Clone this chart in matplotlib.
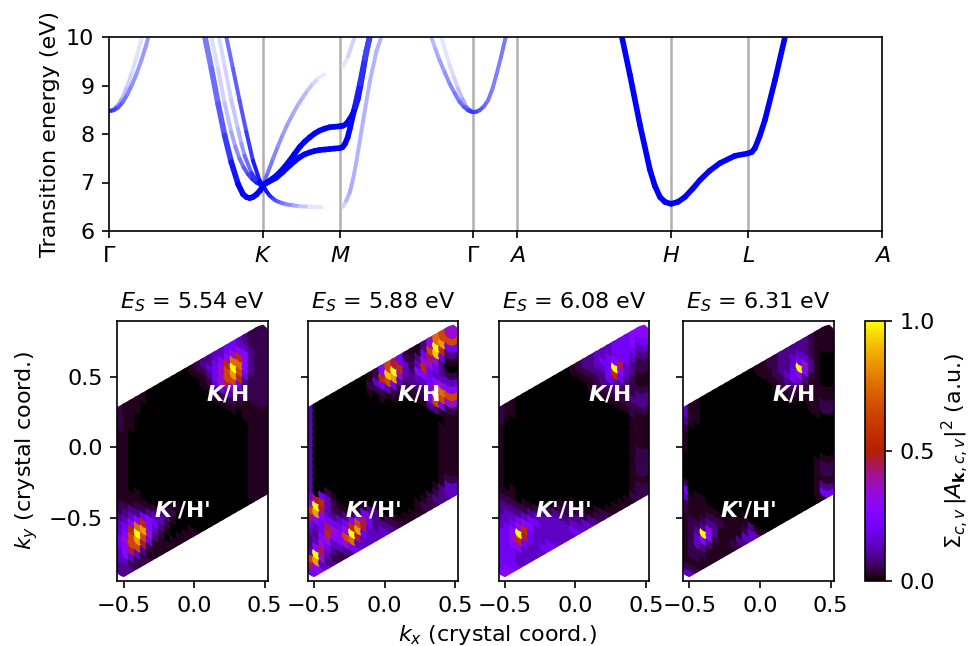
import numpy as np
import matplotlib
matplotlib.use("Agg")
import matplotlib.pyplot as plt
from matplotlib.collections import LineCollection
from matplotlib.patches import Polygon

plt.rcParams["font.size"] = 10.7

W, H = 970, 646

# k-path ticks
TICK_K = [0, 1, 1.5, 2.364, 2.65, 3.65, 4.15, 5.02]
TICK_NAMES = [r"$\Gamma$", "$K$", "$M$", r"$\Gamma$", "$A$", "$H$", "$L$", "$A$"]

# each band: k, energy, weight
G1_K = [0, 0.03, 0.06, 0.09, 0.12, 0.15, 0.18, 0.21, 0.24, 0.26]
G1_E = [8.47, 8.49, 8.55, 8.66, 8.82, 9.02, 9.25, 9.52, 9.82, 10.05]
G1_A = [0.8, 0.8, 0.7, 0.6, 0.5, 0.45, 0.4, 0.4, 0.4, 0.4]
G2_K = [0, 0.03, 0.06, 0.09, 0.12, 0.15, 0.18, 0.21, 0.225]
G2_E = [8.47, 8.50, 8.60, 8.76, 9.0, 9.28, 9.6, 9.95, 10.1]
G2_A = [0.7, 0.6, 0.4, 0.3, 0.2, 0.15, 0.12, 0.1, 0.1]

KL1_K = [0.623, 0.665, 0.708, 0.751, 0.794, 0.838, 0.870, 0.892, 0.913, 0.935, 0.957, 0.98, 1.0]
KL1_E = [10, 9.35, 8.63, 7.97, 7.42, 6.97, 6.76, 6.70, 6.68, 6.70, 6.75, 6.83, 6.93]
KL1_A = [0.5, 0.55, 0.6, 0.7, 0.85, 1, 1, 1, 1, 1, 1, 1, 1]
KL2_K = [0.665, 0.708, 0.751, 0.794, 0.82, 0.848, 0.875, 0.903, 0.93, 0.957, 0.98, 1.0]
KL2_E = [10, 9.35, 8.63, 8.04, 7.74, 7.49, 7.31, 7.17, 7.07, 7.0, 6.96, 6.93]
KL2_A = [0.12, 0.15, 0.2, 0.3, 0.4, 0.5, 0.6, 0.7, 0.8, 0.9, 1, 1]
KL3_K = [0.714, 0.751, 0.794, 0.838, 0.86, 0.881, 0.925, 0.968, 1]
KL3_E = [10, 9.4, 8.7, 8.1, 7.8, 7.55, 7.2, 7.0, 6.93]
KL3_A = [0.15, 0.15, 0.2, 0.25, 0.35, 0.45, 0.7, 0.9, 1]
KL4_K = [0.762, 0.805, 0.848, 0.892, 0.935, 0.978, 1]
KL4_E = [10, 9.35, 8.69, 8.04, 7.45, 7.04, 6.93]
KL4_A = [0.55, 0.6, 0.65, 0.7, 0.85, 0.95, 1]

KM1_K = [1, 1.04, 1.087, 1.13, 1.173, 1.205, 1.238, 1.27, 1.303, 1.335, 1.368, 1.4, 1.433, 1.465, 1.5]
KM1_E = [6.95, 7.03, 7.14, 7.28, 7.45, 7.59, 7.73, 7.84, 7.93, 8.01, 8.07, 8.11, 8.14, 8.15, 8.16]
KM2_E = [6.95, 7.02, 7.10, 7.22, 7.35, 7.44, 7.52, 7.58, 7.62, 7.65, 7.67, 7.68, 7.69, 7.70, 7.71]
KM_A = [1] * 15
KM3_K = [1, 1.033, 1.065, 1.097, 1.130, 1.162, 1.195, 1.227, 1.26, 1.292, 1.325, 1.36, 1.40]
KM3_E = [6.95, 7.22, 7.49, 7.75, 8.0, 8.22, 8.42, 8.6, 8.76, 8.91, 9.04, 9.15, 9.23]
KM3_A = [0.6, 0.55, 0.5, 0.45, 0.4, 0.37, 0.35, 0.32, 0.3, 0.25, 0.2, 0.12, 0.05]
KM4_K = [1, 1.02, 1.043, 1.065, 1.087, 1.12, 1.152, 1.195, 1.238, 1.3, 1.379]
KM4_E = [6.95, 6.83, 6.73, 6.67, 6.62, 6.58, 6.55, 6.53, 6.51, 6.50, 6.49]
KM4_A = [1, 0.95, 0.9, 0.8, 0.7, 0.6, 0.5, 0.4, 0.3, 0.15, 0.05]

MG1_K = [1.5, 1.52, 1.541, 1.562, 1.584, 1.6, 1.617, 1.633, 1.649, 1.671, 1.693]
MG1_E = [8.16, 8.17, 8.21, 8.30, 8.42, 8.56, 8.73, 8.99, 9.28, 9.70, 10]
MG1_A = [1, 1, 1, 1, 1, 0.95, 0.95, 0.9, 0.85, 0.8, 0.7]
MG2_K = [1.5, 1.517, 1.533, 1.55, 1.565, 1.597, 1.63, 1.662, 1.693]
MG2_E = [7.71, 7.73, 7.80, 7.93, 8.12, 8.56, 9.04, 9.56, 10]
MG2_A = [1, 1, 1, 1, 1, 0.95, 0.85, 0.8, 0.7]
MG3_K = [1.52, 1.54, 1.563, 1.585, 1.606, 1.649, 1.693, 1.736, 1.768]
MG3_E = [6.5, 6.62, 6.79, 7.07, 7.42, 8.25, 9.07, 9.7, 10]
MG3_A = [0.1, 0.25, 0.35, 0.32, 0.3, 0.3, 0.3, 0.3, 0.3]
MG4_K = [1.52, 1.552, 1.595]
MG4_E = [9.39, 9.6, 10]
MG4_A = [0.05, 0.15, 0.2]

GL1_K = [2.093, 2.12, 2.147, 2.18, 2.212, 2.245, 2.277, 2.305, 2.331, 2.345, 2.364]
GL1_E = [10, 9.75, 9.52, 9.27, 9.04, 8.84, 8.66, 8.56, 8.49, 8.47, 8.45]
GL1_A = [0.25, 0.3, 0.35, 0.4, 0.45, 0.5, 0.55, 0.6, 0.7, 0.75, 0.8]
GL2_K = [2.158, 2.185, 2.212, 2.24, 2.266, 2.295, 2.32, 2.342, 2.364]
GL2_E = [10, 9.7, 9.42, 9.17, 8.94, 8.72, 8.56, 8.49, 8.45]
GL2_A = [0.1, 0.1, 0.12, 0.15, 0.2, 0.3, 0.4, 0.55, 0.7]
GR_K = [2.364, 2.385, 2.407, 2.435, 2.461, 2.49, 2.515, 2.545, 2.576]
GR_E = [8.45, 8.46, 8.49, 8.57, 8.69, 8.93, 9.21, 9.58, 10]
GR_A = [0.8, 0.75, 0.7, 0.6, 0.55, 0.5, 0.5, 0.5, 0.55]

H_K = [3.331, 3.383, 3.448, 3.513, 3.545, 3.578, 3.61, 3.65, 3.695, 3.74, 3.79, 3.838, 3.9, 3.968,
       4.065, 4.15, 4.175, 4.195, 4.225, 4.26, 4.325, 4.39]
H_E = [10, 9.22, 8.19, 7.26, 6.93, 6.70, 6.60, 6.56, 6.60, 6.70, 6.87, 7.05, 7.24, 7.40,
       7.55, 7.6, 7.63, 7.71, 7.95, 8.29, 9.11, 10]
H_A = [1] * len(H_K)

THIN_BANDS = [(G2_K, G2_E, G2_A), (G1_K, G1_E, G1_A), (KL2_K, KL2_E, KL2_A), (KL3_K, KL3_E, KL3_A),
              (KL4_K, KL4_E, KL4_A), (KM3_K, KM3_E, KM3_A), (KM4_K, KM4_E, KM4_A),
              (MG3_K, MG3_E, MG3_A), (MG4_K, MG4_E, MG4_A), (GL2_K, GL2_E, GL2_A), (GL1_K, GL1_E, GL1_A),
              (GR_K, GR_E, GR_A)]
THICK_BANDS = [(KL1_K, KL1_E, KL1_A), (KM1_K, KM1_E, KM_A), (KM1_K, KM2_E, KM_A), (MG1_K, MG1_E, MG1_A),
               (MG2_K, MG2_E, MG2_A), (H_K, H_E, H_A)]

# intensity levels, one hex digit per grid point
LEVELS = [0, .02, .05, .09, .14, .2, .27, .35, .45, .55, .65, .75, .85, .92, .97, 1.0]

TITLES = ["5.54", "5.88", "6.08", "6.31"]

PANEL1 = [
    "211110000000123344554322",
    "211100000000012456676422",
    "2110000000000013579b9632",
    "111000000000001257afb632",
    "110000000000000147aca632",
    "1100000000000000258a9532",
    "110000000000000012455322",
    "110000000000000001233222",
    "110000000000000000122222",
    "110000000000000000011122",
    "110000000000000000000112",
    "110000000000000000000111",
    "110000000000000000000011",
    "211100000000000000000011",
    "221100000000000000000011",
    "333210000000000000000011",
    "444321000000000000000011",
    "456653210000000000000011",
    "569b96432100000000000011",
    "57afc6543210000000000011",
    "46aca7432100000000000011",
    "468a85321000000000000011",
    "344432110000000000000011",
    "332221111111100000000011",
]
PANEL2 = [
    "4000000000126a8521137ba7",
    "4000000000249df94235afca",
    "4000000000125ac742478d95",
    "400000000000245433697753",
    "400000000000112223465531",
    "400000000000001112345430",
    "400000000000000001235642",
    "400000000000000000125874",
    "400000000000000000015fb6",
    "400000000000000000003aaa",
    "400000000000000000000357",
    "400000000000000000000012",
    "500000000000000000000001",
    "785200000000000000000011",
    "af9410000000000000000011",
    "8c8420000000000000000011",
    "566421000000000000000011",
    "445532100000000000000011",
    "335854321100000000000011",
    "346975566532000000000011",
    "46776679a853000000000011",
    "af8546afc853100000000112",
    "8c74347b8543321000112234",
    "564322354444432111122334",
]
PANEL3 = [
    "211000000000123344455566",
    "211000000000012345555565",
    "100000000000001234565554",
    "1000000000000001235f8543",
    "100000000000000123596432",
    "100000000000000012345432",
    "100000000000000001233321",
    "100000000000000000122221",
    "100000000000000000012222",
    "100000000000000000001233",
    "100000000000000000000123",
    "100000000000000000000022",
    "211000000000000000000011",
    "321000000000000000000011",
    "332000000000000000000011",
    "443210000000000000000011",
    "444321000000000000000011",
    "555543210000000000000012",
    "556765432110000000000012",
    "557f96544322100000000012",
    "556985444432100000000012",
    "555655444443321000000011",
    "555444444444432110000012",
    "665444455444544322111122",
]
PANEL4 = [
    "411000000000112233333211",
    "311000000000011233443211",
    "211000000000001233454211",
    "1000000000000001245f7310",
    "100000000000000123566310",
    "100000000000000012343210",
    "000000000000000001222110",
    "000000000000000000111110",
    "000000000000000000001111",
    "000000000000000000000111",
    "200000000000000000000112",
    "500000000000000000000012",
    "400000000000000000000000",
    "211000000000000000000000",
    "211100000000000000000000",
    "111100000000000000000000",
    "121110000000000000000000",
    "122221000000000000000000",
    "123332100000000000000011",
    "124f63211000000000000012",
    "124663111110000000000012",
    "122332111110000000000011",
    "212211111123000000000013",
    "421111112344100000000015",
]
PANELS = [PANEL1, PANEL2, PANEL3, PANEL4]


def box(x0, y0, x1, y1):
    """ Pixel box of the reference to figure fractions. """
    return [x0 / W, 1 - y1 / H, (x1 - x0) / W, (y1 - y0) / H]


def draw_band(ax, k, e, weight, lw):
    # blue faded to white, opaque so the round caps do not stack up
    pts = np.column_stack([k, e])
    segs = np.stack([pts[:-1], pts[1:]], axis=1)
    cols = []
    for i in range(len(k) - 1):
        w = (weight[i] + weight[i + 1]) / 2
        cols.append((1 - w, 1 - w, 1))
    ax.add_collection(LineCollection(segs, colors=cols, linewidths=lw, capstyle="round", zorder=2))


fig = plt.figure(figsize=(W / 150, H / 150), dpi=150)

top = fig.add_axes(box(109, 37, 882, 231))
for x in TICK_K[1:-1]:
    top.axvline(x, color="#b0b0b0", lw=1.2, zorder=1)
for k, e, a in THIN_BANDS:
    draw_band(top, k, e, a, 1.9)
for k, e, a in THICK_BANDS:
    draw_band(top, k, e, a, 2.7)
top.set_xlim(TICK_K[0], TICK_K[-1])
top.set_ylim(6, 10)
top.set_xticks(TICK_K)
top.set_xticklabels(TICK_NAMES)
top.set_yticks([6, 7, 8, 9, 10])
top.set_ylabel("Transition energy (eV)", labelpad=3)

a_grid = np.linspace(-0.5, 0.477, 24)
b_grid = np.linspace(0.477, -0.5, 24)
pix = [(117.3, 267.7), (307.7, 458.3), (498.7, 649), (683, 833.7)]
# outline of the parallelogram, round at the two far corners
OUTLINE = [(-0.7, 0.196), (0.455, 0.862), (0.49, 0.872), (0.515, 0.85), (0.53, 0.8), (0.7, -0.232),
           (-0.47, -0.906), (-0.5, -0.925), (-0.535, -0.905), (-0.55, -0.87)]

for n, rows in enumerate(PANELS):
    vals = np.array([[LEVELS[int(c, 16)] for c in r] for r in rows])
    ax = fig.add_axes(box(pix[n][0], 320.7, pix[n][1], 581))
    A, B = np.meshgrid(a_grid, b_grid)
    order = np.lexsort((B.ravel(), A.ravel()))
    kx = A.ravel()[order]
    ky = (A.ravel()[order] + 2 * B.ravel()[order]) / np.sqrt(3)
    sc = ax.scatter(kx, ky, c=vals.ravel()[order], s=55, cmap="gnuplot", vmin=0, vmax=1, linewidths=0)
    sc.set_clip_path(Polygon(OUTLINE, transform=ax.transData))
    ax.set_xlim(-0.544, 0.522)
    ax.set_ylim(-0.95, 0.90)
    ax.set_xticks([-0.5, 0, 0.5])
    ax.set_yticks([-0.5, 0, 0.5])
    if n > 0:
        ax.set_yticklabels([])
    else:
        ax.set_ylabel("$k_y$ (crystal coord.)", labelpad=4)
    ax.set_title(f"$E_S$ = {TITLES[n]} eV", fontsize=10.7, pad=6)
    ax.text(0.24, 0.38, r"$\mathbfit{K}$/H", color="white", weight="bold", fontsize=10.5, ha="center", va="center")
    ax.text(-0.083, -0.447, r"$\mathbfit{K}$'/H'", color="white", weight="bold", fontsize=10.5, ha="center", va="center")

fig.text(497 / W, 1 - 635 / H, "$k_x$ (crystal coord.)", ha="center", va="center", fontsize=10.7)

cax = fig.add_axes(box(865, 321, 885, 581))
cb = fig.colorbar(sc, cax=cax)
cb.set_ticks([0, 0.5, 1])
cb.set_ticklabels(["0.0", "0.5", "1.0"])
cb.set_label(r"$\Sigma_{c,v}\,|A_{\mathbf{k},c,v}|^2$ (a.u.)", labelpad=2)

fig.savefig("out.png", dpi=150)
